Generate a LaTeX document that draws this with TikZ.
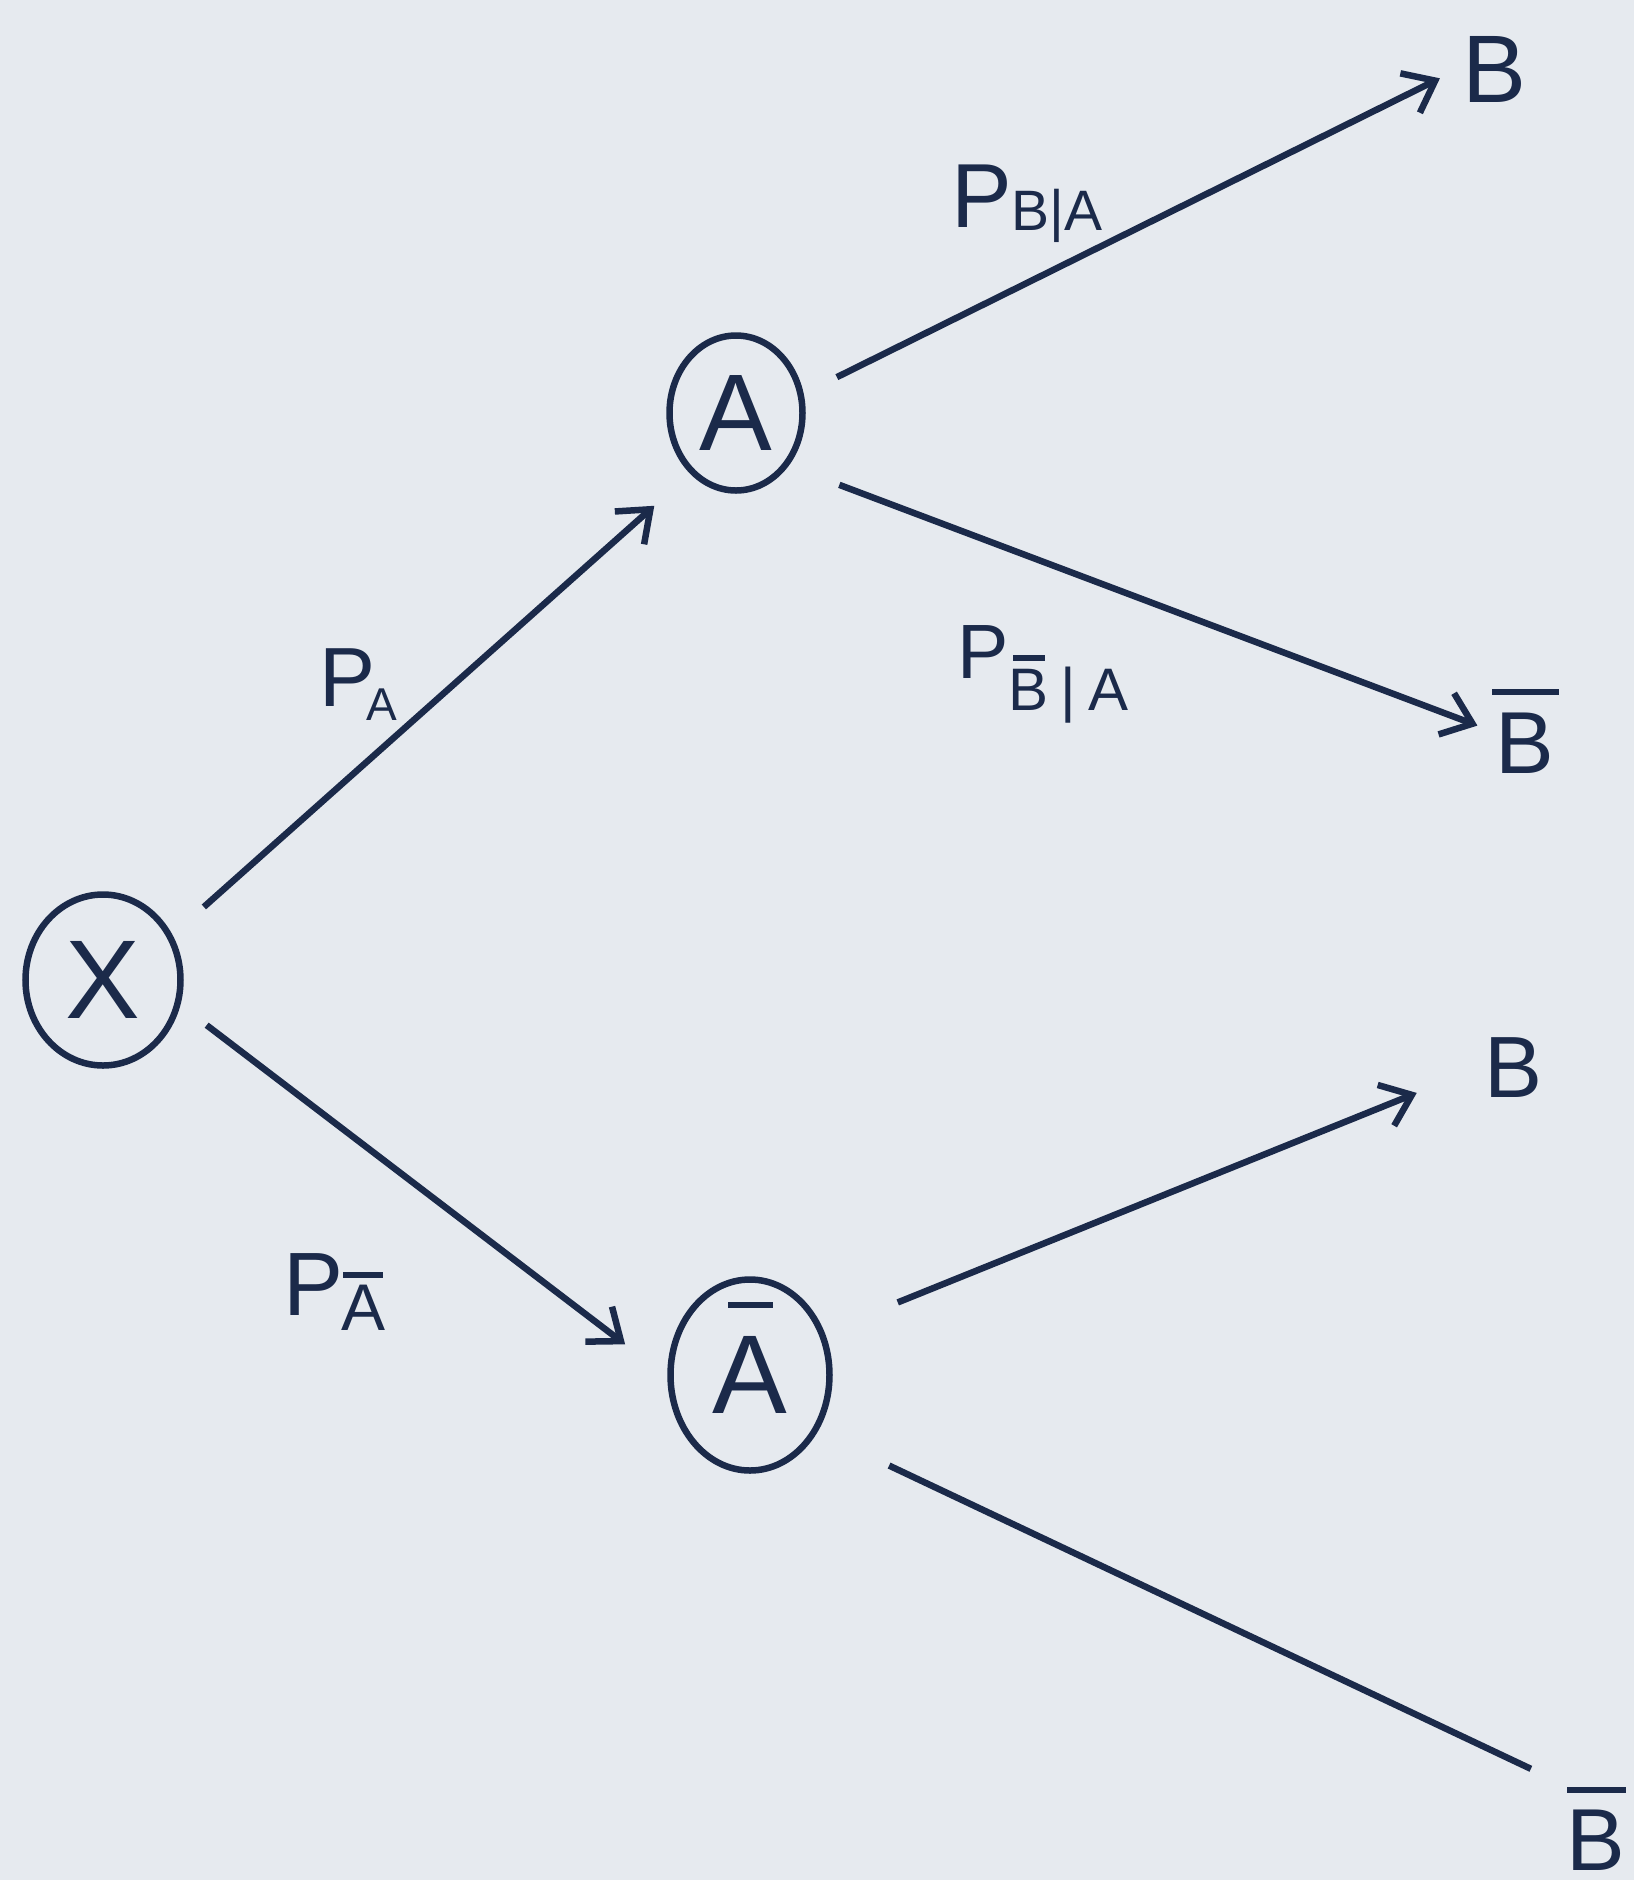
\documentclass[tikz,border=0pt]{standalone}
\usepackage{fontspec}
\setmainfont{Liberation Sans}
\usetikzlibrary{arrows.meta,shapes.geometric}
\definecolor{paper}{HTML}{E6EAEF}
\definecolor{ink}{HTML}{1B2A4A}
% bar over a letter: #1 gap, #2 bar width, #3 letter; the bar counts in the height
\newcommand\barover[3]{\setbox0\hbox{#3}\makebox[0pt][l]{\hspace{\dimexpr(\wd0-#2)/2\relax}\raisebox{\dimexpr\ht0+#1\relax}{\rule{#2}{6pt}}}\box0}
% same, but the bar does not change the height of the box
\newcommand\baroversm[3]{\setbox0\hbox{#3}\makebox[0pt][l]{\hspace{\dimexpr(\wd0-#2)/2\relax}\raisebox{\dimexpr\ht0+#1\relax}[0pt][0pt]{\rule{#2}{6pt}}}\box0}
\begin{document}
\begin{tikzpicture}[x=1pt,y=-1pt,line width=6.5pt,ink,
  every node/.style={inner sep=0pt,text=ink},
  state/.style={draw,ellipse,line width=6.5pt},
  leaf/.style={anchor=base},
  lbl/.style={anchor=base west},
  arr/.style={-{Straight Barb[length=28pt,width=44pt]}}]
\fill[paper] (0,0) rectangle (1634,1880);
\useasboundingbox (0,0) rectangle (1634,1880);

% event nodes
\node[state,minimum width=155pt,minimum height=171pt] (X) at (103,980) {\fontsize{112}{112}\selectfont X};
\node[state,minimum width=133pt,minimum height=155pt] (A) at (736,413) {\fontsize{109}{109}\selectfont A};
\node[state,minimum width=159pt,minimum height=191pt] (Abar) at (750,1375) {\fontsize{112}{112}\selectfont\raisebox{-8pt}{\baroversm{28pt}{45pt}{A}}};

% outcomes
\node[leaf] (B1) at (1494,102) {\fontsize{96}{96}\selectfont B};
\node[leaf] (B2) at (1525,773) {\fontsize{88}{88}\selectfont\barover{17pt}{67pt}{B}};
\node[leaf] (B3) at (1513,1097) {\fontsize{87}{87}\selectfont B};
\node[leaf] (B4) at (1596,1870) {\fontsize{88}{88}\selectfont\barover{16pt}{59pt}{B}};

% branches
\draw[arr,shorten <=42pt,shorten >=48pt] (X.33) -- (A.233);
\draw[arr,shorten <=33pt,shorten >=53pt] (X.-18) -- (Abar.181);
\draw[arr,shorten <=37pt,shorten >=21pt] (A.16) -- (B1.west);
\draw[arr,shorten <=54pt,shorten >=16pt] (A.-45) -- (B2.west);
\draw[arr,shorten <=79pt,shorten >=69pt] (Abar.30) -- (B3.west);
\draw[shorten <=79pt,shorten >=36pt] (Abar.-40) -- (B4.north west);

% branch probabilities
\node[lbl] (pBA) at (948,227) {\fontsize{91}{91}\selectfont P\raisebox{-3pt}{\fontsize{57}{57}\selectfont B|A}};
\node[lbl] (pBbA) at (954,678) {\fontsize{77}{77}\selectfont P\raisebox{-32pt}{\fontsize{60}{60}\selectfont\barover{8pt}{32pt}{B}\hspace{12pt}|\hspace{12pt}A}};
\node[lbl] (pA) at (316,706) {\fontsize{84}{84}\selectfont P\hspace{-9pt}\raisebox{-14pt}{\fontsize{46}{46}\selectfont A}};
\node[lbl] (pAb) at (280,1315) {\fontsize{90}{90}\selectfont P\hspace{-2pt}\raisebox{-15pt}{\fontsize{66}{66}\selectfont\barover{7pt}{40pt}{A}}};
\end{tikzpicture}
\end{document}
